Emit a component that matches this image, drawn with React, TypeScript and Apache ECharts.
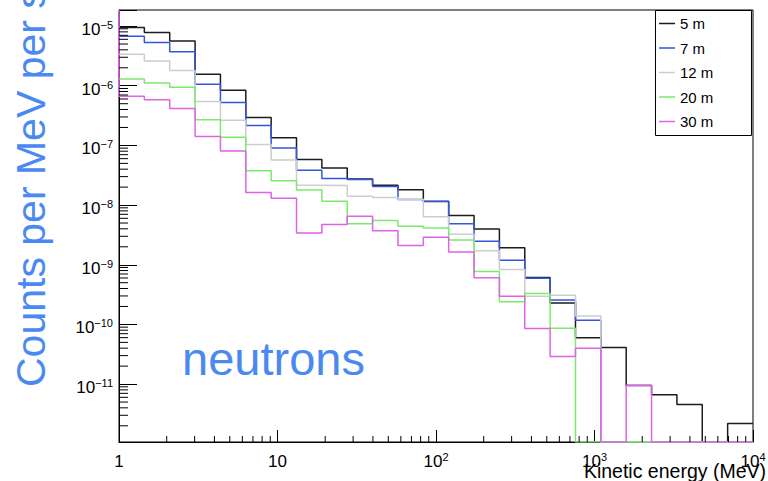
import React, { useEffect, useRef } from "react";
import * as echarts from "echarts";

// Log-uniform energy bins (MeV), 25 bins from 1 to 10^4
const BIN_EDGES = [
  1, 1.445, 2.089, 3.02, 4.365, 6.31, 9.12, 13.18, 19.05, 27.54, 39.81, 57.54,
  83.18, 120.2, 173.8, 251.2, 363.1, 524.8, 758.6, 1096, 1585, 2291, 3311,
  4786, 6918, 10000,
];

const SERIES_NAMES = ["5 m", "7 m", "12 m", "20 m", "30 m"];

// Counts per MeV per s, one value per bin (0 = empty bin)
const FLUX_5M = [
  9.5e-6, 7.8e-6, 5.6e-6, 1.56e-6, 8.4e-7, 2.93e-7, 1.34e-7, 5.8e-8, 4.17e-8,
  2.74e-8, 2.15e-8, 1.81e-8, 1.15e-8, 6.7e-9, 3.98e-9, 1.92e-9, 6.1e-10,
  2.29e-10, 6.0e-11, 4.1e-11, 9.5e-12, 6.6e-12, 4.56e-12, 0, 2.18e-12,
];
const FLUX_7M = [
  6.75e-6, 5.3e-6, 3.72e-6, 1.06e-6, 5.22e-7, 2.15e-7, 9.05e-8, 3.83e-8, 2.8e-8,
  2.69e-8, 2.05e-8, 1.245e-8, 1.16e-8, 4.85e-9, 2.47e-9, 1.19e-9, 5.94e-10,
  2.57e-10, 1.18e-10, 0, 0, 0, 0, 0, 0,
];
const FLUX_12M = [
  3.38e-6, 2.6e-6, 1.8e-6, 5.46e-7, 2.65e-7, 1.035e-7, 5.7e-8, 2.15e-8, 2.13e-8,
  1.4e-8, 1.34e-8, 1.255e-8, 6.4e-9, 3.24e-9, 1.71e-9, 8.3e-10, 2.97e-10,
  3.08e-10, 1.38e-10, 0, 0, 0, 0, 0, 0,
];
const FLUX_20M = [
  1.3e-6, 1.114e-6, 9.44e-7, 2.68e-7, 1.377e-7, 3.76e-8, 2.56e-8, 1.795e-8,
  1.162e-8, 4.85e-9, 5.53e-9, 4.4e-9, 4.14e-9, 2.61e-9, 7.7e-10, 2.4e-10,
  3.3e-10, 8.64e-11, 0, 0, 0, 0, 0, 0, 0,
];
const FLUX_30M = [
  6.68e-7, 5.83e-7, 4.14e-7, 1.41e-7, 8.03e-8, 1.63e-8, 1.304e-8, 3.42e-9,
  4.74e-9, 6.52e-9, 3.73e-9, 2.11e-9, 2.88e-9, 1.63e-9, 6.06e-10, 2.97e-10,
  8.57e-11, 2.89e-11, 3.97e-11, 0, 9.55e-12, 0, 0, 0, 0,
];

const SERIES_VALUES = [FLUX_5M, FLUX_7M, FLUX_12M, FLUX_20M, FLUX_30M];
const SERIES_COLORS = ["#1c1c1c", "#3556dc", "#cdcdcd", "#7aea6a", "#e062e6"];
// the 30 m histogram's outline starts at the top of the frame
const STARTS_FROM_TOP = [false, false, false, false, true];

const X_MIN = 1;
const X_MAX = 10000;
const Y_MIN = 1.07e-12;
const Y_MAX = 1.86e-5;
const MINOR_MULTIPLIERS = [2, 3, 4, 5, 6, 7, 8, 9];

const Y_TITLE = "Counts per MeV per s";
const X_TITLE = "Kinetic energy (MeV)";
const PLOT_LABEL = "neutrons";

const FONT = "'Liberation Sans', Arial, Helvetica, sans-serif";
const TITLE_BLUE = "#4a89f2";

// minor tick values (2..9 times each power of ten) strictly inside [lo, hi]
function minorTickValues(lo: number, hi: number): number[] {
  const out: number[] = [];
  for (let d = Math.floor(Math.log10(lo)); d <= Math.ceil(Math.log10(hi)); d++) {
    for (const m of MINOR_MULTIPLIERS) {
      const v = m * Math.pow(10, d);
      if (v > lo * 1.0001 && v < hi * 0.9999) out.push(v);
    }
  }
  return out;
}

function histogramSteps(values: number[], fromTop: boolean) {
  const pts: number[][] = [];
  if (fromTop) pts.push([BIN_EDGES[0], Y_MAX]);
  values.forEach((v, i) => pts.push([BIN_EDGES[i], v > 0 ? v : Y_MIN]));
  const last = values[values.length - 1];
  pts.push([BIN_EDGES[values.length], last > 0 ? last : Y_MIN]);
  return pts;
}

function powerLabel(value: number, plainBelow: number) {
  const e = Math.log10(value);
  const r = Math.round(e);
  if (Math.abs(e - r) > 1e-6) return "";
  if (r < plainBelow && r >= 0) return r === 0 ? "{b|1}" : "{b|10}";
  const txt = r < 0 ? "\u2212" + Math.abs(r) : String(r);
  return "{b|10}{s|" + txt + "}";
}

const richLabel = {
  b: { fontSize: 17, lineHeight: 20, verticalAlign: "middle", fontFamily: FONT, color: "#000" },
  s: { fontSize: 11, lineHeight: 8, verticalAlign: "top", fontFamily: FONT, color: "#000" },
};

export default function App() {
  const ref = useRef<HTMLDivElement>(null);

  useEffect(() => {
    if (!ref.current) return;
    const chart = echarts.init(ref.current, undefined, { renderer: "svg" });

    const histSeries = SERIES_NAMES.map((name, i) => ({
      name,
      type: "line",
      step: "end",
      symbol: "none",
      data: histogramSteps(SERIES_VALUES[i], STARTS_FROM_TOP[i]),
      lineStyle: { color: SERIES_COLORS[i], width: 1.5 },
      itemStyle: { color: SERIES_COLORS[i] },
      silent: true,
      emphasis: { disabled: true },
      z: 2 + i,
    }));

    // minor log ticks, placed through the axes' own log scales
    const xMinorSeries = {
      type: "custom",
      name: "x minor ticks",
      silent: true,
      z: 8,
      data: minorTickValues(X_MIN, X_MAX).map((v) => [v, Y_MIN]),
      renderItem: (_p: any, api: any) => {
        const pt = api.coord([api.value(0), api.value(1)]);
        return {
          type: "line",
          shape: { x1: pt[0], y1: pt[1], x2: pt[0], y2: pt[1] - 6 },
          style: { stroke: "#000", lineWidth: 1 },
        };
      },
    };
    const yMinorSeries = {
      type: "custom",
      name: "y minor ticks",
      silent: true,
      z: 8,
      data: minorTickValues(Y_MIN, Y_MAX).map((v) => [X_MIN, v]),
      renderItem: (_p: any, api: any) => {
        const pt = api.coord([api.value(0), api.value(1)]);
        return {
          type: "line",
          shape: { x1: pt[0], y1: pt[1], x2: pt[0] + 9, y2: pt[1] },
          style: { stroke: "#000", lineWidth: 1 },
        };
      },
    };

    const option = {
      animation: false,
      backgroundColor: "#ffffff",
      grid: {
        left: 119,
        right: 15,
        top: 10,
        bottom: 39,
        containLabel: false,
        outerBoundsMode: "none",
        show: true,
        borderColor: "#000",
        borderWidth: 1,
        backgroundColor: "transparent",
      },
      legend: {
        orient: "vertical",
        left: 659,
        top: 16,
        padding: 0,
        icon: "rect",
        itemWidth: 16,
        itemHeight: 1.5,
        itemGap: 9.5,
        data: SERIES_NAMES,
        textStyle: { fontSize: 15, lineHeight: 15, color: "#000", fontFamily: FONT },
        selectedMode: false,
      },
      xAxis: {
        type: "log",
        logBase: 10,
        min: X_MIN,
        max: X_MAX,
        position: "bottom",
        axisLine: { show: true, lineStyle: { color: "#000", width: 1 } },
        axisTick: { show: true, inside: true, length: 12, lineStyle: { color: "#000" } },
        axisLabel: {
          margin: 9,
          formatter: (v: number) => powerLabel(v, 2),
          rich: richLabel,
          hideOverlap: false,
        },
        splitLine: { show: false },
        minorTick: { show: false },
      },
      yAxis: {
        type: "log",
        logBase: 10,
        min: Y_MIN,
        max: Y_MAX,
        position: "left",
        axisLine: { show: true, lineStyle: { color: "#000", width: 1 } },
        axisTick: { show: true, inside: true, length: 18, lineStyle: { color: "#000" } },
        axisLabel: {
          margin: 6,
          padding: [7, 0, 0, 0],
          formatter: (v: number) => powerLabel(v, 0),
          rich: richLabel,
          hideOverlap: false,
        },
        splitLine: { show: false },
        minorTick: { show: false },
      },
      graphic: [
        {
          type: "rect",
          shape: { x: 655.5, y: 10.5, width: 96, height: 125 },
          style: { fill: "none", stroke: "#000", lineWidth: 1 },
          z: 10,
          silent: true,
        },
        {
          type: "text",
          x: 31,
          y: 387,
          rotation: Math.PI / 2,
          style: {
            text: Y_TITLE,
            fontSize: 41,
            fontFamily: FONT,
            fill: TITLE_BLUE,
            align: "left",
            verticalAlign: "middle",
          },
          silent: true,
        },
        {
          type: "text",
          x: 182,
          y: 358,
          style: {
            text: PLOT_LABEL,
            fontSize: 47,
            fontFamily: FONT,
            fill: TITLE_BLUE,
            align: "left",
            verticalAlign: "middle",
          },
          silent: true,
        },
        {
          type: "text",
          x: 766,
          y: 471,
          style: {
            text: X_TITLE,
            fontSize: 19.5,
            fontFamily: FONT,
            fill: "#000",
            align: "right",
            verticalAlign: "middle",
          },
          silent: true,
        },
      ],
      series: [...histSeries, xMinorSeries, yMinorSeries],
    };

    chart.setOption(option as any);
    return () => chart.dispose();
  }, []);

  return (
    <div
      ref={ref}
      style={{ position: "absolute", left: 0, top: 0, width: 768, height: 481 }}
    />
  );
}
